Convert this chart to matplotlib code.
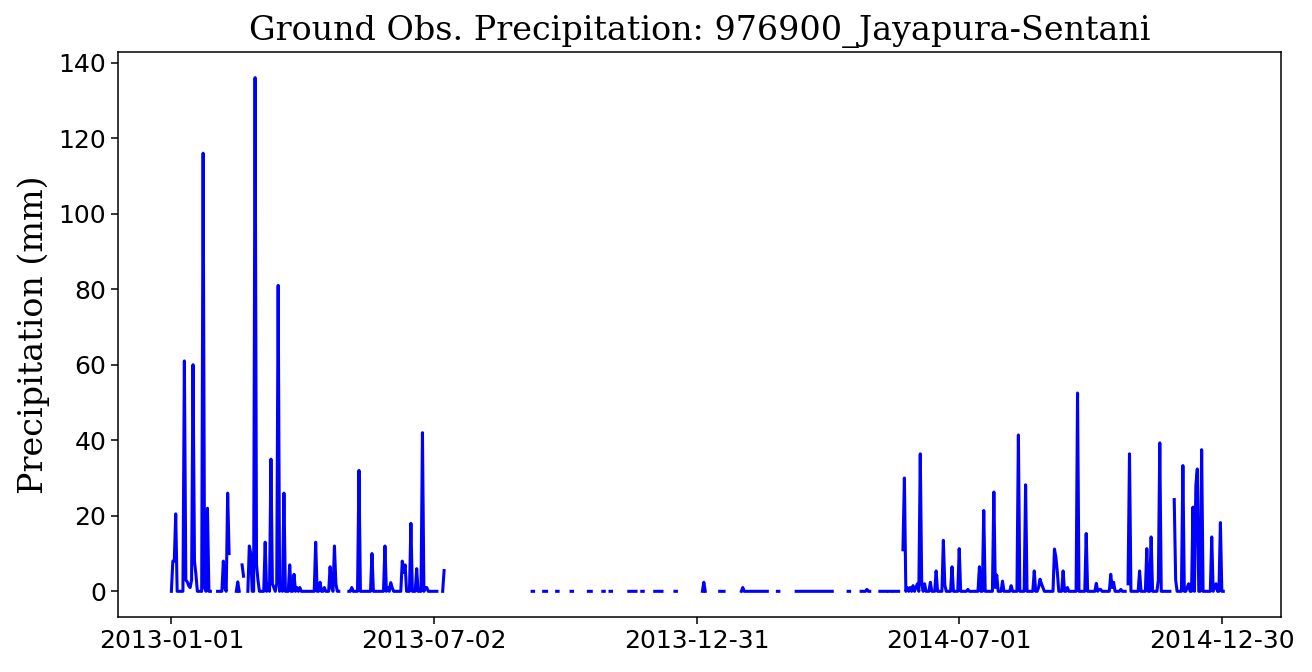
import numpy as np
import pandas as pd
import matplotlib
matplotlib.use("Agg")
import matplotlib.pyplot as plt
import matplotlib.dates as mdates

# ---------------- data ----------------
start_date = "2013-01-01"
n_days = 730

# day offset from start_date -> daily precipitation (mm); all other observed days are 0
rain_day = [1, 2, 3, 9, 10, 11, 12, 13, 14, 15, 16, 17, 22, 23, 25, 36, 37, 39, 40,
            46, 49, 50, 54, 55, 58, 59, 60, 65, 67, 69, 70, 71, 73, 74, 76, 78,
            82, 85, 87, 89, 100, 103, 106, 110, 111, 113, 114, 125, 130, 139,
            148, 150, 152, 153, 160, 161, 162, 166, 170, 174, 176, 177, 189,
            369, 396, 482,
            507, 508, 510, 512, 514, 516, 517, 519, 520, 522, 526, 530, 535, 536,
            541, 546, 552, 560, 563, 570, 571, 572, 576, 582, 587, 592, 598, 601,
            602, 603, 604, 612, 613, 614, 618, 621, 628, 634, 641, 643, 644, 651,
            652, 653, 658, 663, 664, 671, 676, 679, 684, 685, 695, 696, 701, 704,
            705, 708, 710, 711, 714, 721, 723, 724, 727]
rain_mm = [8, 8, 20.5, 61, 3, 2.5, 1.5, 1, 3, 60, 8, 4.5, 116, 1, 22, 8, 1, 26, 10,
           2.5, 7, 4, 12, 10, 136, 7, 3, 13, 2, 35, 2, 1, 2, 81, 2, 26,
           7, 4.5, 1, 1, 13, 2.4, 1, 6.5, 1, 12, 2, 1, 32, 10,
           12, 1, 2.3, 1, 8, 5, 7, 18, 6, 42, 1, 1, 5.5,
           2.4, 1, 0.5,
           11, 30, 1, 1, 1.5, 1, 2, 36.4, 2, 2, 2.4, 5.4, 13.5, 1.7,
           6.5, 11.3, 0.5, 6.5, 21.4, 26.3, 1, 4.3, 2.7, 1.5, 41.4, 28.2, 5.4, 1,
           3.2, 2, 1, 11.2, 9, 5, 5.4, 1, 52.5, 15.3, 2.1, 0.5, 0.5, 4.5,
           1, 2.4, 0.5, 2, 36.4, 5.4, 11.3, 14.4, 3, 39.3, 24.3, 3, 33.3, 1,
           2, 22.3, 28, 32.4, 37.5, 14.4, 1, 2, 18.2]

# missing-data periods (inclusive day offsets)
missing_from = [28, 41, 48, 51, 117, 185, 190, 252, 261, 269, 279, 292, 301, 306,
                323, 328, 341, 351, 371, 384, 414, 422, 459, 471, 485, 496, 500,
                505, 662, 693]
missing_to = [31, 44, 48, 52, 122, 187, 249, 257, 266, 276, 288, 298, 303, 316,
              325, 334, 348, 367, 379, 394, 419, 432, 468, 477, 490, 496, 500,
              506, 662, 694]

tick_dates = ["2013-01-01", "2013-07-02", "2013-12-31", "2014-07-01", "2014-12-30"]
station = "976900_Jayapura-Sentani"

# ---------------- build series ----------------
dates = pd.date_range(start_date, periods=n_days, freq="D")
precip = np.zeros(n_days)
precip[rain_day] = rain_mm
for a, b in zip(missing_from, missing_to):
    precip[a:b + 1] = np.nan

# ---------------- plot ----------------
W, H = 1312, 672
fig = plt.figure(figsize=(W / 100, H / 100), dpi=100)
ax = fig.add_axes([118 / W, 1 - 617 / H, (1281 - 118) / W, (617 - 52) / H])
ax.plot(dates, precip, color="blue", lw=2.2)

ax.set_title(f"Ground Obs. Precipitation: {station}", family="DejaVu Serif",
             fontsize=24, pad=9)
ax.set_ylabel("Precipitation (mm)", family="DejaVu Serif", fontsize=24, labelpad=6)
ax.set_xticks(pd.to_datetime(tick_dates))
ax.xaxis.set_major_formatter(mdates.DateFormatter("%Y-%m-%d"))
ax.tick_params(labelsize=18, length=5, width=1.1)
for s in ax.spines.values():
    s.set_linewidth(1.1)
ax.set_xlim(pd.Timestamp("2012-11-25"), pd.Timestamp("2015-02-09"))

fig.savefig("out.png", dpi=100)
